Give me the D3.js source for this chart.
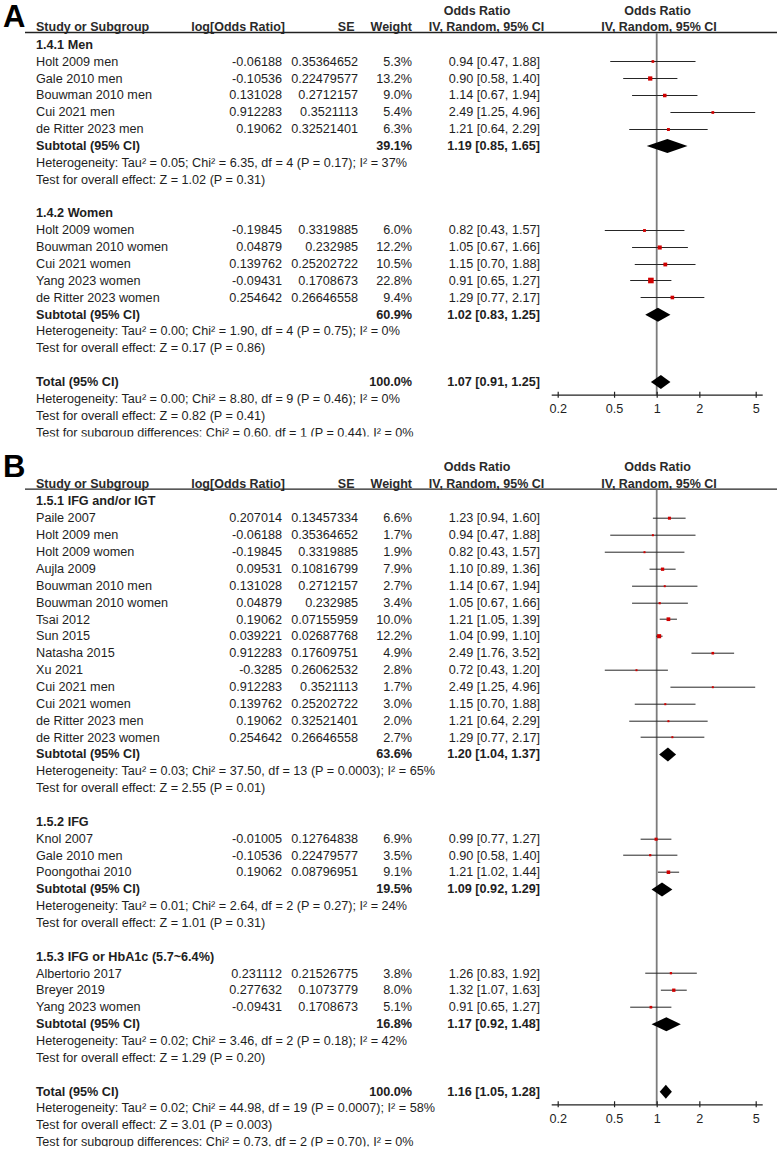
<!DOCTYPE html>
<html><head><meta charset="utf-8">
<script src="https://cdn.jsdelivr.net/npm/d3@7"></script>
<style>
body{margin:0;background:#fff}
svg{display:block}
text{font-family:"Liberation Sans",Arial,sans-serif;font-size:12.65px;fill:#1e1e1e}
</style>
</head><body>
<svg id="c" width="777" height="1150"></svg>
<script>
// ---------- shared ----------
const tickValues = [0.2, 0.5, 1, 2, 5];
const tickLabels = ["0.2", "0.5", "1", "2", "5"];
const colHeaders = ["Study or Subgroup", "log[Odds Ratio]", "SE", "Weight", "IV, Random, 95% CI", "Odds Ratio", "Odds Ratio", "IV, Random, 95% CI"];

// ---------- Panel A ----------
const aGroups = ["1.4.1 Men", "1.4.2 Women"];
const aStudy = ["Holt 2009 men", "Gale 2010 men", "Bouwman 2010 men", "Cui 2021 men", "de Ritter 2023 men",
  "Holt 2009 women", "Bouwman 2010 women", "Cui 2021 women", "Yang 2023 women", "de Ritter 2023 women"];
const aGroupOf = [0, 0, 0, 0, 0, 1, 1, 1, 1, 1];
const aLogOR = ["-0.06188", "-0.10536", "0.131028", "0.912283", "0.19062", "-0.19845", "0.04879", "0.139762", "-0.09431", "0.254642"];
const aSE = ["0.35364652", "0.22479577", "0.2712157", "0.3521113", "0.32521401", "0.3319885", "0.232985", "0.25202722", "0.1708673", "0.26646558"];
const aWeight = [5.3, 13.2, 9.0, 5.4, 6.3, 6.0, 12.2, 10.5, 22.8, 9.4];
const aOR = [0.94, 0.90, 1.14, 2.49, 1.21, 0.82, 1.05, 1.15, 0.91, 1.29];
const aLo = [0.47, 0.58, 0.67, 1.25, 0.64, 0.43, 0.67, 0.70, 0.65, 0.77];
const aHi = [1.88, 1.40, 1.94, 4.96, 2.29, 1.57, 1.66, 1.88, 1.27, 2.17];
const aSubWeight = [39.1, 60.9];
const aSubOR = [1.19, 1.02];
const aSubLo = [0.85, 0.83];
const aSubHi = [1.65, 1.25];
const aSubHet = ["Heterogeneity: Tau² = 0.05; Chi² = 6.35, df = 4 (P = 0.17); I² = 37%",
  "Heterogeneity: Tau² = 0.00; Chi² = 1.90, df = 4 (P = 0.75); I² = 0%"];
const aSubTest = ["Test for overall effect: Z = 1.02 (P = 0.31)", "Test for overall effect: Z = 0.17 (P = 0.86)"];
const aTotal = [100.0, 1.07, 0.91, 1.25]; // weight, OR, lower, upper
const aTotalNotes = ["Heterogeneity: Tau² = 0.00; Chi² = 8.80, df = 9 (P = 0.46); I² = 0%",
  "Test for overall effect: Z = 0.82 (P = 0.41)",
  "Test for subgroup differences: Chi² = 0.60, df = 1 (P = 0.44), I² = 0%"];

// ---------- Panel B ----------
const bGroups = ["1.5.1 IFG and/or IGT", "1.5.2 IFG", "1.5.3 IFG or HbA1c (5.7~6.4%)"];
const bStudy = ["Paile 2007", "Holt 2009 men", "Holt 2009 women", "Aujla 2009", "Bouwman 2010 men", "Bouwman 2010 women",
  "Tsai 2012", "Sun 2015", "Natasha 2015", "Xu 2021", "Cui 2021 men", "Cui 2021 women", "de Ritter 2023 men", "de Ritter 2023 women",
  "Knol 2007", "Gale 2010 men", "Poongothai 2010",
  "Albertorio 2017", "Breyer 2019", "Yang 2023 women"];
const bGroupOf = [0, 0, 0, 0, 0, 0, 0, 0, 0, 0, 0, 0, 0, 0, 1, 1, 1, 2, 2, 2];
const bLogOR = ["0.207014", "-0.06188", "-0.19845", "0.09531", "0.131028", "0.04879", "0.19062", "0.039221", "0.912283", "-0.3285",
  "0.912283", "0.139762", "0.19062", "0.254642", "-0.01005", "-0.10536", "0.19062", "0.231112", "0.277632", "-0.09431"];
const bSE = ["0.13457334", "0.35364652", "0.3319885", "0.10816799", "0.2712157", "0.232985", "0.07155959", "0.02687768", "0.17609751", "0.26062532",
  "0.3521113", "0.25202722", "0.32521401", "0.26646558", "0.12764838", "0.22479577", "0.08796951", "0.21526775", "0.1073779", "0.1708673"];
const bWeight = [6.6, 1.7, 1.9, 7.9, 2.7, 3.4, 10.0, 12.2, 4.9, 2.8, 1.7, 3.0, 2.0, 2.7, 6.9, 3.5, 9.1, 3.8, 8.0, 5.1];
const bOR = [1.23, 0.94, 0.82, 1.10, 1.14, 1.05, 1.21, 1.04, 2.49, 0.72, 2.49, 1.15, 1.21, 1.29, 0.99, 0.90, 1.21, 1.26, 1.32, 0.91];
const bLo = [0.94, 0.47, 0.43, 0.89, 0.67, 0.67, 1.05, 0.99, 1.76, 0.43, 1.25, 0.70, 0.64, 0.77, 0.77, 0.58, 1.02, 0.83, 1.07, 0.65];
const bHi = [1.60, 1.88, 1.57, 1.36, 1.94, 1.66, 1.39, 1.10, 3.52, 1.20, 4.96, 1.88, 2.29, 2.17, 1.27, 1.40, 1.44, 1.92, 1.63, 1.27];
const bSubWeight = [63.6, 19.5, 16.8];
const bSubOR = [1.20, 1.09, 1.17];
const bSubLo = [1.04, 0.92, 0.92];
const bSubHi = [1.37, 1.29, 1.48];
const bSubHet = ["Heterogeneity: Tau² = 0.03; Chi² = 37.50, df = 13 (P = 0.0003); I² = 65%",
  "Heterogeneity: Tau² = 0.01; Chi² = 2.64, df = 2 (P = 0.27); I² = 24%",
  "Heterogeneity: Tau² = 0.02; Chi² = 3.46, df = 2 (P = 0.18); I² = 42%"];
const bSubTest = ["Test for overall effect: Z = 2.55 (P = 0.01)", "Test for overall effect: Z = 1.01 (P = 0.31)",
  "Test for overall effect: Z = 1.29 (P = 0.20)"];
const bTotal = [100.0, 1.16, 1.05, 1.28];
const bTotalNotes = ["Heterogeneity: Tau² = 0.02; Chi² = 44.98, df = 19 (P = 0.0007); I² = 58%",
  "Test for overall effect: Z = 3.01 (P = 0.003)",
  "Test for subgroup differences: Chi² = 0.73, df = 2 (P = 0.70), I² = 0%"];

// ---------- drawing ----------
const svg = d3.select("#c");
svg.append("rect").attr("width", 777).attr("height", 1150).attr("fill", "#fff");
const defs = svg.append("defs");

const x = d3.scaleLog().domain([0.2, 5]).range([557.7, 755.7]);
const boxSide = d3.scaleSqrt().domain([0, 22.8]).range([0, 5.6]);
const f1 = d3.format(".1f"), f2 = d3.format(".2f");
const ciText = (o, l, h) => `${f2(o)} [${f2(l)}, ${f2(h)}]`;

const COL = {name: 36, logor: 282, se: 358, weight: 412, ci: 540};

function buildRows(d) {
  const rows = [];
  d.groups.forEach((gname, gi) => {
    rows.push({type: "group", label: gname});
    d.study.forEach((s, i) => {
      if (d.groupOf[i] === gi) rows.push({type: "study", i});
    });
    rows.push({type: "sub", gi});
    rows.push({type: "note", label: d.subHet[gi]});
    rows.push({type: "note", label: d.subTest[gi]});
    rows.push({type: "blank"});
  });
  rows.push({type: "total"});
  d.totalNotes.forEach(t => rows.push({type: "note", label: t}));
  return rows;
}

function drawPanel(d) {
  const clipId = "clip" + d.letter;
  defs.append("clipPath").attr("id", clipId).append("rect")
    .attr("x", 0).attr("y", d.clipTop).attr("width", 777).attr("height", d.clipBottom - d.clipTop);
  const outer = svg.append("g").attr("clip-path", `url(#${clipId})`);
  const g = outer.append("g").attr("transform", `translate(0,${d.dy})`);

  const rows = buildRows(d);
  const y = d3.scaleLinear().domain([0, 1]).range([48.8, 48.8 + 16.86]); // row index -> baseline
  const mid = i => y(i) - 4.4;

  // panel letter
  svg.append("text").attr("x", 3).attr("y", d.letterY).text(d.letter)
    .style("font-size", "31px").style("font-weight", "bold").style("fill", "#000");

  // headers
  const hdr = (txt, xx, yy, anchor) => g.append("text").attr("x", xx).attr("y", yy)
    .attr("text-anchor", anchor).style("font-weight", "bold").style("font-size", "12.5px")
    .style("fill", "#2a2a2a").text(txt);
  hdr(colHeaders[0], 36, 31, "start");
  hdr(colHeaders[1], 285, 31, "end");
  hdr(colHeaders[2], 354.5, 31, "end");
  hdr(colHeaders[3], 412, 31, "end");
  hdr(colHeaders[4], 486.5, 31, "middle");
  hdr(colHeaders[5], 477, 14.5, "middle");
  hdr(colHeaders[6], 657.5, 14.5, "middle");
  hdr(colHeaders[7], 659, 31, "middle");
  g.append("line").attr("x1", 25).attr("x2", 777).attr("y1", 32.5).attr("y2", 32.5)
    .attr("stroke", "#222").attr("stroke-width", 1.3);

  const axisRow = rows.findIndex(r => r.type === "total");
  const axisY = y(axisRow) + 9.2;

  // reference line at OR = 1
  g.append("line").attr("x1", x(1)).attr("x2", x(1)).attr("y1", 33).attr("y2", axisY)
    .attr("stroke", "#7c7c7c").attr("stroke-width", 1.8);

  const txt = (s, xx, yy, anchor, bold) => g.append("text").attr("x", xx).attr("y", yy)
    .attr("text-anchor", anchor).style("font-weight", bold ? "bold" : "normal").text(s);

  rows.forEach((r, ri) => {
    const by = y(ri);
    if (r.type === "group") txt(r.label, COL.name, by, "start", true);
    else if (r.type === "note") txt(r.label, COL.name, by, "start", false);
    else if (r.type === "study") {
      const i = r.i;
      txt(d.study[i], COL.name, by, "start", false);
      txt(d.logor[i], COL.logor, by, "end", false);
      txt(d.se[i], COL.se, by, "end", false);
      txt(f1(d.weight[i]) + "%", COL.weight, by, "end", false);
      txt(ciText(d.or[i], d.lo[i], d.hi[i]), COL.ci, by, "end", false);
      const cy = mid(ri);
      g.append("line").attr("x1", x(d.lo[i])).attr("x2", x(d.hi[i]))
        .attr("y1", Math.round(cy) + 0.5).attr("y2", Math.round(cy) + 0.5)
        .attr("stroke", "#262626").attr("stroke-width", 1);
      const s = Math.max(2, boxSide(d.weight[i]));
      g.append("rect").attr("x", x(d.or[i]) - s / 2).attr("y", Math.round(cy) + 0.5 - s / 2)
        .attr("width", s).attr("height", s).attr("fill", "#d00000");
    } else if (r.type === "sub" || r.type === "total") {
      const isSub = r.type === "sub";
      const w = isSub ? d.subWeight[r.gi] : d.total[0];
      const o = isSub ? d.subOR[r.gi] : d.total[1];
      const l = isSub ? d.subLo[r.gi] : d.total[2];
      const h = isSub ? d.subHi[r.gi] : d.total[3];
      txt(isSub ? "Subtotal (95% CI)" : "Total (95% CI)", COL.name, by, "start", true);
      txt(f1(w) + "%", COL.weight, by, "end", true);
      txt(ciText(o, l, h), COL.ci, by, "end", true);
      const cy = mid(ri) + 0.5, hh = 7;
      g.append("path").attr("d", `M${x(l)},${cy}L${x(o)},${cy - hh}L${x(h)},${cy}L${x(o)},${cy + hh}Z`)
        .attr("fill", "#000");
    }
  });

  // axis
  g.append("line").attr("x1", x(0.2) - 6).attr("x2", x(5) + 7).attr("y1", axisY).attr("y2", axisY)
    .attr("stroke", "#222").attr("stroke-width", 1.2);
  const axis = d3.axisBottom(x).tickValues(tickValues).tickFormat((v, i) => tickLabels[i]).tickSize(3).tickSizeOuter(0);
  const ax = g.append("g").attr("transform", `translate(0,${axisY})`).call(axis);
  ax.attr("font-size", null).attr("font-family", null);
  ax.select(".domain").remove();
  ax.selectAll(".tick line").attr("y1", -3.5).attr("y2", 2.5).attr("stroke", "#222").attr("stroke-width", 1.2);
  ax.selectAll(".tick text").attr("y", 9).attr("dy", "0.71em");
}

drawPanel({
  letter: "A", dy: 0, letterY: 27, clipTop: 0, clipBottom: 436.5,
  groups: aGroups, study: aStudy, groupOf: aGroupOf, logor: aLogOR, se: aSE, weight: aWeight,
  or: aOR, lo: aLo, hi: aHi, subWeight: aSubWeight, subOR: aSubOR, subLo: aSubLo, subHi: aSubHi,
  subHet: aSubHet, subTest: aSubTest, total: aTotal, totalNotes: aTotalNotes
});
drawPanel({
  letter: "B", dy: 456.7, letterY: 477, clipTop: 436.5, clipBottom: 1146.5,
  groups: bGroups, study: bStudy, groupOf: bGroupOf, logor: bLogOR, se: bSE, weight: bWeight,
  or: bOR, lo: bLo, hi: bHi, subWeight: bSubWeight, subOR: bSubOR, subLo: bSubLo, subHi: bSubHi,
  subHet: bSubHet, subTest: bSubTest, total: bTotal, totalNotes: bTotalNotes
});
</script>
</body></html>
